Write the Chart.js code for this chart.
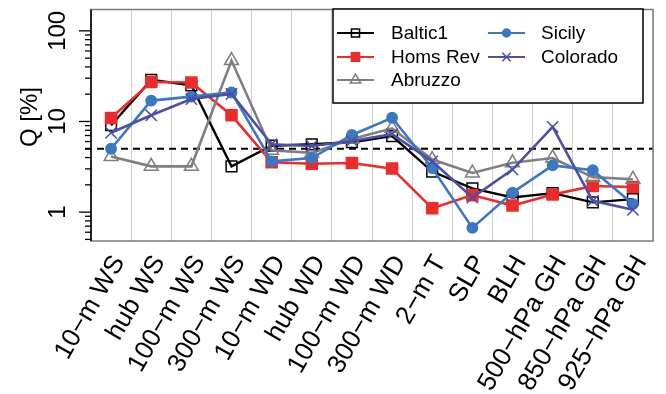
<!DOCTYPE html>
<html>
<head>
<meta charset="utf-8">
<script src="https://cdn.jsdelivr.net/npm/chart.js@4/dist/chart.umd.min.js"></script>
<style>
  html, body { margin: 0; padding: 0; background: #fff; }
  #wrap { width: 666px; height: 394px; }
</style>
</head>
<body>
<div id="wrap"><canvas id="chart"></canvas></div>
<script>
// ─── Data ───────────────────────────────────────────────────
const variables = ['10−m WS', 'hub WS', '100−m WS', '300−m WS', '10−m WD', 'hub WD', '100−m WD',
    '300−m WD', '2−m T', 'SLP', 'BLH', '500−hPa GH', '850−hPa GH', '925−hPa GH'];

const baltic1  = [9.1, 28.8, 25.1, 3.2, 5.4, 5.6, 5.9, 6.9, 2.8, 1.83, 1.45, 1.62, 1.28, 1.39];
const homsRev  = [10.9, 27.3, 26.9, 11.7, 3.55, 3.42, 3.48, 3.02, 1.1, 1.54, 1.18, 1.56, 1.94, 1.89];
const abruzzo  = [4.1, 3.2, 3.2, 47, 4.8, 4.5, 6.4, 8.4, 3.8, 2.7, 3.5, 3.95, 2.43, 2.3];
const sicily   = [5.0, 17, 18.8, 20.9, 3.63, 3.95, 7.1, 11.0, 3.07, 0.67, 1.64, 3.28, 2.9, 1.23];
const colorado = [7.5, 11.7, 17.7, 20.1, 5.6, 5.37, 6.1, 7.25, 3.63, 1.45, 2.95, 8.7, 1.33, 1.06];

const yMajorTicks = [1, 10, 100];
const refLevel = 5;

const FONT = "'Liberation Sans', Arial, sans-serif";

function series(label, data, color, style, radius, fill, order, width) {
    return {
        label, data, order,
        borderColor: color, backgroundColor: color,
        borderWidth: width, tension: 0,
        pointStyle: style, pointRadius: radius, pointHoverRadius: radius,
        pointBorderColor: color, pointBackgroundColor: fill,
        pointBorderWidth: 1.5
    };
}

const datasets = [
    series('Baltic1', baltic1, '#000000', 'rect', 7.6, 'rgba(0,0,0,0)', 5, 2.4),
    series('Homs Rev', homsRev, '#ec2c2c', 'rect', 7.8, '#ec2c2c', 4, 2.6),
    series('Abruzzo', abruzzo, '#7f7f7f', 'triangle', 8, 'rgba(0,0,0,0)', 3, 2.6),
    series('Sicily', sicily, '#3a78c4', 'circle', 5.2, '#3a78c4', 2, 2.6),
    series('Colorado', colorado, '#4b4fa6', 'crossRot', 8, '#4b4fa6', 1, 2.6)
];

// ─── Frame, log ticks, reference line, legend ───────────────
const framePlugin = {
    id: 'frame',
    beforeDatasetsDraw(chart) {
        const { ctx, chartArea: a, scales: { y } } = chart;
        const yy = y.getPixelForValue(refLevel);
        ctx.save();
        ctx.strokeStyle = '#000';
        ctx.lineWidth = 2;
        ctx.setLineDash([7, 5]);
        ctx.beginPath();
        ctx.moveTo(a.left - 6, yy);
        ctx.lineTo(a.right, yy);
        ctx.stroke();
        ctx.restore();
    },
    afterDatasetsDraw(chart) {
        const { ctx, chartArea: a, scales: { y } } = chart;
        ctx.save();
        // box
        ctx.strokeStyle = '#7a7a7a';
        ctx.lineWidth = 1.5;
        ctx.strokeRect(a.left, a.top, a.right - a.left, a.bottom - a.top);
        ctx.strokeStyle = '#000';
        ctx.beginPath();
        ctx.moveTo(a.left, a.top); ctx.lineTo(a.left, a.bottom);
        ctx.stroke();

        // log ticks
        ctx.lineWidth = 1.3;
        for (let k = -1; k <= 2; k++) {
            for (let n = 1; n <= 9; n++) {
                const v = n * Math.pow(10, k);
                if (v < y.min || v > y.max) continue;
                const py = y.getPixelForValue(v);
                const len = n === 1 ? 12 : 6;
                ctx.beginPath();
                ctx.moveTo(a.left - len, py); ctx.lineTo(a.left, py);
                ctx.stroke();
            }
        }

        // tick labels, rotated
        ctx.fillStyle = '#000';
        ctx.font = '24px ' + FONT;
        ctx.textAlign = 'center';
        ctx.textBaseline = 'middle';
        yMajorTicks.forEach(v => {
            const py = y.getPixelForValue(v);
            ctx.save();
            ctx.translate(58, py);
            ctx.rotate(-Math.PI / 2);
            ctx.fillText(String(v), 0, 0);
            ctx.restore();
        });

        // axis title
        ctx.save();
        ctx.translate(30, 117);
        ctx.rotate(-Math.PI / 2);
        ctx.fillText('Q [%]', 0, 0);
        ctx.restore();

        // legend
        const box = { x: 333, y: 9, w: 310, h: 94 };
        ctx.fillStyle = '#fff';
        ctx.fillRect(box.x, box.y, box.w, box.h);
        ctx.strokeStyle = '#000';
        ctx.lineWidth = 1.5;
        ctx.strokeRect(box.x, box.y, box.w, box.h);

        const slots = [
            { lx: 337, tx: 391, y: 33 }, { lx: 337, tx: 391, y: 57 }, { lx: 337, tx: 391, y: 80 },
            { lx: 488, tx: 541, y: 33 }, { lx: 488, tx: 541, y: 57 }
        ];
        ctx.font = '19px ' + FONT;
        ctx.textAlign = 'left';
        chart.data.datasets.forEach((ds, i) => {
            const s = slots[i];
            ctx.strokeStyle = ds.borderColor;
            ctx.lineWidth = 2;
            ctx.beginPath();
            ctx.moveTo(s.lx, s.y); ctx.lineTo(s.lx + 37, s.y);
            ctx.stroke();
            ctx.fillStyle = ds.pointBackgroundColor;
            ctx.lineWidth = 1.5;
            Chart.helpers.drawPoint(ctx, {
                pointStyle: ds.pointStyle, radius: ds.pointRadius * 0.75,
                borderWidth: 1.5, rotation: 0
            }, s.lx + 18.5, s.y);
            ctx.fillStyle = '#000';
            ctx.fillText(ds.label, s.tx, s.y + 1);
        });
        ctx.restore();
    }
};

new Chart(document.getElementById('chart'), {
    type: 'line',
    data: { labels: variables, datasets },
    options: {
        responsive: true, maintainAspectRatio: false, animation: false,
        devicePixelRatio: 1,
        layout: { padding: { top: 5, right: 13, left: 0, bottom: 0 } },
        plugins: { legend: { display: false }, tooltip: { enabled: false } },
        scales: {
            x: {
                offset: true,
                grid: { offset: true, color: '#d0d0d0', lineWidth: 1, drawTicks: false },
                border: { display: false },
                ticks: {
                    autoSkip: false, minRotation: 60, maxRotation: 60, padding: 9, labelOffset: 8,
                    color: '#000', font: { family: FONT, size: 26 }
                },
                afterFit(scale) { scale.height = 153; scale.paddingLeft = 0; scale.paddingRight = 0; }
            },
            y: {
                type: 'logarithmic', min: 0.48, max: 172,
                grid: { display: false },
                border: { display: false },
                ticks: { display: false },
                afterFit(scale) { scale.width = 91; }
            }
        }
    },
    plugins: [framePlugin]
});
</script>
</body>
</html>
